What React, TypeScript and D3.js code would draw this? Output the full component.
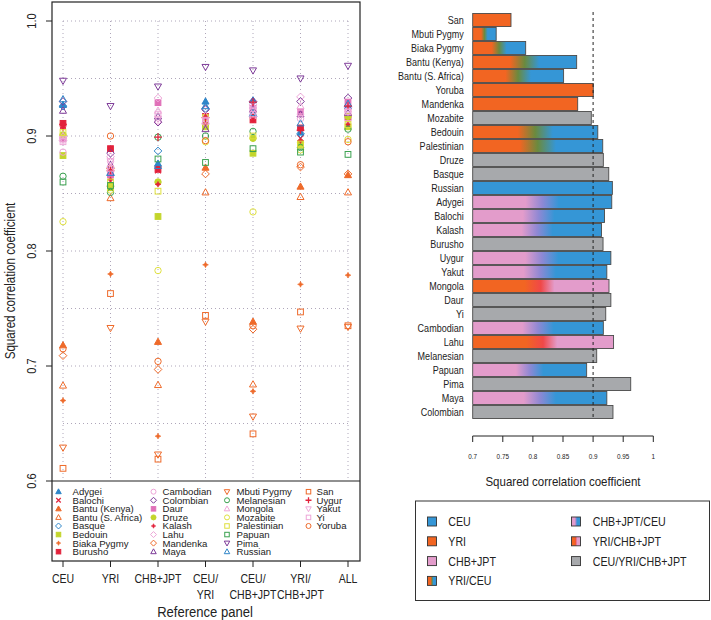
import React from "react";
import * as d3 from "d3";

// ---------- DATA ----------
const panels = ["CEU", "YRI", "CHB+JPT", "CEU/YRI", "CEU/CHB+JPT", "YRI/CHB+JPT", "ALL"];
const panelLabels = [["CEU"], ["YRI"], ["CHB+JPT"], ["CEU/", "YRI"], ["CEU/", "CHB+JPT"], ["YRI/", "CHB+JPT"], ["ALL"]];

const populations = [
  "Adygei", "Balochi", "Bantu (Kenya)", "Bantu (S. Africa)", "Basque", "Bedouin", "Biaka Pygmy", "Burusho",
  "Cambodian", "Colombian", "Daur", "Druze", "Kalash", "Lahu", "Mandenka", "Maya",
  "Mbuti Pygmy", "Melanesian", "Mongola", "Mozabite", "Palestinian", "Papuan", "Pima", "Russian",
  "San", "Uygur", "Yakut", "Yi", "Yoruba",
];

const valsCEU = [0.927, 0.909, 0.718, 0.683, 0.926, 0.883, 0.670, 0.911, 0.886, 0.930, 0.898, 0.901, 0.907, 0.896, 0.709, 0.922, 0.629, 0.865, 0.900, 0.8255, 0.903, 0.860, 0.948, 0.932, 0.611, 0.910, 0.897, 0.895, 0.715];
const valsYRI = [0.868, 0.870, 0.858, 0.846, 0.866, 0.855, 0.780, 0.889, 0.878, 0.885, 0.866, 0.857, 0.862, 0.882, 0.872, 0.875, 0.733, 0.851, 0.871, 0.853, 0.860, 0.857, 0.926, 0.868, 0.763, 0.870, 0.878, 0.872, 0.900];
const valsCHBJPT = [0.876, 0.870, 0.721, 0.6835, 0.887, 0.830, 0.639, 0.871, 0.913, 0.912, 0.929, 0.860, 0.858, 0.933, 0.697, 0.917, 0.623, 0.899, 0.922, 0.783, 0.852, 0.880, 0.943, 0.874, 0.619, 0.899, 0.915, 0.919, 0.704];
const valsCEUYRI = [0.930, 0.915, 0.8725, 0.851, 0.924, 0.908, 0.788, 0.917, 0.912, 0.923, 0.913, 0.910, 0.911, 0.911, 0.867, 0.906, 0.7385, 0.900, 0.918, 0.895, 0.916, 0.877, 0.960, 0.926, 0.744, 0.916, 0.914, 0.913, 0.896];
const valsCEUCHB = [0.931, 0.919, 0.7385, 0.684, 0.917, 0.885, 0.678, 0.914, 0.917, 0.930, 0.924, 0.898, 0.914, 0.927, 0.732, 0.923, 0.656, 0.904, 0.926, 0.834, 0.900, 0.889, 0.957, 0.920, 0.641, 0.9295, 0.9228, 0.919, 0.735];
const valsYRICHB = [0.903, 0.898, 0.856, 0.847, 0.902, 0.892, 0.771, 0.907, 0.915, 0.930, 0.921, 0.894, 0.896, 0.934, 0.873, 0.919, 0.7325, 0.890, 0.926, 0.888, 0.893, 0.886, 0.950, 0.911, 0.747, 0.905, 0.917, 0.920, 0.875];
const valsALL = [0.926, 0.925, 0.866, 0.851, 0.926, 0.908, 0.779, 0.9165, 0.914, 0.933, 0.9295, 0.917, 0.910, 0.925, 0.867, 0.920, 0.734, 0.906, 0.923, 0.897, 0.910, 0.884, 0.961, 0.928, 0.735, 0.926, 0.921, 0.921, 0.895];
const panelValues = [valsCEU, valsYRI, valsCHBJPT, valsCEUYRI, valsCEUCHB, valsYRICHB, valsALL];

const yTicks = [0.6, 0.7, 0.8, 0.9, 1.0];
const yGrid = [0.65, 0.7, 0.75, 0.8, 0.85, 0.9, 0.95, 1.0];

const barPopulations = [
  "San", "Mbuti Pygmy", "Biaka Pygmy", "Bantu (Kenya)", "Bantu (S. Africa)", "Yoruba", "Mandenka", "Mozabite",
  "Bedouin", "Palestinian", "Druze", "Basque", "Russian", "Adygei", "Balochi", "Kalash", "Burusho", "Uygur",
  "Yakut", "Mongola", "Daur", "Yi", "Cambodian", "Lahu", "Melanesian", "Papuan", "Pima", "Maya", "Colombian",
];
const barValues = [
  0.7636, 0.739, 0.788, 0.8727, 0.851, 0.9003, 0.8744, 0.897,
  0.9078, 0.916, 0.917, 0.926, 0.932, 0.931, 0.919, 0.914, 0.9165, 0.9295,
  0.9228, 0.9264, 0.9295, 0.921, 0.917, 0.934, 0.906, 0.8893, 0.9625, 0.9228, 0.933,
];
const barSources = [
  "YRI", "YRI/CEU", "YRI/CEU", "YRI/CEU", "YRI/CEU", "YRI", "YRI", "CEU/YRI/CHB+JPT",
  "YRI/CEU", "YRI/CEU", "CEU/YRI/CHB+JPT", "CEU/YRI/CHB+JPT", "CEU", "CHB+JPT/CEU", "CHB+JPT/CEU", "CHB+JPT/CEU", "CEU/YRI/CHB+JPT", "CHB+JPT/CEU",
  "CHB+JPT/CEU", "YRI/CHB+JPT", "CEU/YRI/CHB+JPT", "CEU/YRI/CHB+JPT", "CHB+JPT/CEU", "YRI/CHB+JPT", "CEU/YRI/CHB+JPT", "CHB+JPT/CEU", "CEU/YRI/CHB+JPT", "CHB+JPT/CEU", "CEU/YRI/CHB+JPT",
];
const barTicks = [0.7, 0.75, 0.8, 0.85, 0.9, 0.95, 1];
const barTickLabels = ["0.7", "0.75", "0.8", "0.85", "0.9", "0.95", "1"];
const legendCol1 = ["CEU", "YRI", "CHB+JPT", "YRI/CEU"];
const legendCol2 = ["CHB+JPT/CEU", "YRI/CHB+JPT", "CEU/YRI/CHB+JPT"];

// ---------- STYLES ----------
const BLUE = "#2f86c9";
const RED = "#e2223b";
const ORANGE = "#ee6a2a";
const PURPLE = "#7d3a98";
const PINK = "#e070b8";
const LPINK = "#eea6d8";
const GREEN = "#3aa14f";
const YGREEN = "#c3d52b";
const YELLOW = "#dfe03e";

const markerStyle: Record<string, [string, string]> = {
  "Adygei": ["triUpF", BLUE], "Balochi": ["x", RED], "Bantu (Kenya)": ["triUpF", ORANGE],
  "Bantu (S. Africa)": ["triUp", ORANGE], "Basque": ["diam", BLUE], "Bedouin": ["sqF", YGREEN],
  "Biaka Pygmy": ["star", ORANGE], "Burusho": ["sqF", RED], "Cambodian": ["circ", LPINK],
  "Colombian": ["diam", PURPLE], "Daur": ["sqF", PINK], "Druze": ["circF", YGREEN],
  "Kalash": ["star", RED], "Lahu": ["diam", LPINK], "Mandenka": ["diam", ORANGE],
  "Maya": ["triUp", PURPLE], "Mbuti Pygmy": ["triDown", ORANGE], "Melanesian": ["circ", GREEN],
  "Mongola": ["triUp", LPINK], "Mozabite": ["circ", YELLOW], "Palestinian": ["sq", YELLOW],
  "Papuan": ["sq", GREEN], "Pima": ["triDown", PURPLE], "Russian": ["triUp", BLUE],
  "San": ["sq", ORANGE], "Uygur": ["plus", RED], "Yakut": ["triDown", LPINK],
  "Yi": ["sq", LPINK], "Yoruba": ["circ", ORANGE],
};

const C_CEU = "#3596d6";
const C_YRI = "#f26522";
const C_CHB = "#e39ccb";
const C_GRAY = "#a7a9ac";
const gradStops: Record<string, [number, string][]> = {
  "CEU": [[0, C_CEU], [1, C_CEU]],
  "YRI": [[0, C_YRI], [1, C_YRI]],
  "CHB+JPT": [[0, C_CHB], [1, C_CHB]],
  "CEU/YRI/CHB+JPT": [[0, C_GRAY], [1, C_GRAY]],
  "YRI/CEU": [[0, C_YRI], [0.36, C_YRI], [0.5, "#6a8a3e"], [0.64, C_CEU], [1, C_CEU]],
  "CHB+JPT/CEU": [[0, C_CHB], [0.38, C_CHB], [0.5, "#8f88d4"], [0.62, C_CEU], [1, C_CEU]],
  "YRI/CHB+JPT": [[0, C_YRI], [0.38, C_YRI], [0.5, "#f04848"], [0.6, C_CHB], [1, C_CHB]],
};
const gid = (s: string) => "g_" + s.replace(/[^A-Za-z]/g, "_");

const FONT = "'Liberation Sans', Arial, sans-serif";

// condensed text helper (emulates a narrow typeface)
function NText({ x, y, size, sx, anchor, rotate, children }: { x: number; y: number; size: number; sx: number; anchor?: string; rotate?: number; children: React.ReactNode }) {
  const t = `translate(${x},${y})${rotate ? ` rotate(${rotate})` : ""} scale(${sx},1)`;
  return (
    <text transform={t} textAnchor={anchor || "start"} fontSize={size} fill="#222">
      {children}
    </text>
  );
}

function Marker({ shape, x, y, r, color }: { shape: string; x: number; y: number; r: number; color: string }) {
  const sw = 1;
  switch (shape) {
    case "triUp":
    case "triUpF": {
      const pts = `${x},${y - r * 1.15} ${x - r * 1.1},${y + r * 0.8} ${x + r * 1.1},${y + r * 0.8}`;
      const f = shape === "triUpF";
      return <polygon points={pts} fill={f ? color : "none"} stroke={color} strokeWidth={sw} />;
    }
    case "triDown": {
      const pts = `${x},${y + r * 1.15} ${x - r * 1.1},${y - r * 0.8} ${x + r * 1.1},${y - r * 0.8}`;
      return <polygon points={pts} fill="none" stroke={color} strokeWidth={sw} />;
    }
    case "sq":
    case "sqF": {
      const s = r * 0.9;
      return <rect x={x - s} y={y - s} width={2 * s} height={2 * s} fill={shape === "sqF" ? color : "none"} stroke={color} strokeWidth={sw} />;
    }
    case "circ":
    case "circF":
      return <circle cx={x} cy={y} r={r} fill={shape === "circF" ? color : "none"} stroke={color} strokeWidth={sw} />;
    case "diam": {
      const s = r * 1.2;
      const pts = `${x},${y - s} ${x + s},${y} ${x},${y + s} ${x - s},${y}`;
      return <polygon points={pts} fill="none" stroke={color} strokeWidth={sw} />;
    }
    case "x": {
      const s = r * 0.9;
      return <path d={`M${x - s},${y - s}L${x + s},${y + s}M${x - s},${y + s}L${x + s},${y - s}`} stroke={color} strokeWidth={1.2} />;
    }
    case "plus": {
      const s = r * 1.2;
      return <path d={`M${x - s},${y}L${x + s},${y}M${x},${y - s}L${x},${y + s}`} stroke={color} strokeWidth={1.3} />;
    }
    case "star": {
      const a = r * 0.9, b = r * 0.3;
      const d = `M${x},${y - a}L${x + b},${y - b}L${x + a},${y}L${x + b},${y + b}L${x},${y + a}L${x - b},${y + b}L${x - a},${y}L${x - b},${y - b}Z`;
      return <path d={d} fill={color} stroke={color} strokeWidth={0.6} />;
    }
  }
  return null;
}

export default function App() {
  // Left panel
  const boxL = 52, boxR = 360, boxT = 2, plotB = 481, boxB = 561;
  const x = d3.scalePoint<string>().domain(panels).range([63, 348]);
  const y = d3.scaleLinear().domain([0.6, 1.0]).range([481, 21]);
  const xMin = x(panels[0])!, xMax = x(panels[panels.length - 1])!;

  // Right panel
  const bx = d3.scaleLinear().domain([0.7, 1]).range([472.7, 653.3]);
  const by = d3.scaleBand<string>().domain(barPopulations).range([13, 419]).paddingInner(0.07).paddingOuter(0.035);
  const axisY = 436;

  const legendRows = 8;
  const legColsSym = [58.5, 153.5, 227, 308.5];
  const legColsText = [72.5, 162.5, 236.5, 316.5];

  return (
    <svg width={711} height={620} style={{ position: "absolute", left: 0, top: 0, background: "#fff" }} fontFamily={FONT}>
      <defs>
        {Object.keys(gradStops).map((k) => (
          <linearGradient key={k} id={gid(k)} x1="0" x2="1" y1="0" y2="0">
            {gradStops[k].map(([o, c], i) => (
              <stop key={i} offset={o} stopColor={c} />
            ))}
          </linearGradient>
        ))}
      </defs>

      {/* ---------- LEFT PANEL ---------- */}
      {yGrid.map((v) => (
        <line key={"hg" + v} x1={xMin} x2={xMax} y1={y(v)} y2={y(v)} stroke="#9a8fa8" strokeWidth={0.8} strokeDasharray="1,3" />
      ))}
      {panels.map((p) => (
        <line key={"vg" + p} x1={x(p)} x2={x(p)} y1={y(1.0)} y2={plotB} stroke="#9a8fa8" strokeWidth={0.8} strokeDasharray="1,3" />
      ))}
      {panels.map((p, pi) =>
        populations.map((pop, i) => {
          const [shape, color] = markerStyle[pop];
          return <Marker key={p + pop} shape={shape} x={x(p)!} y={y(panelValues[pi][i])} r={3.2} color={color} />;
        })
      )}
      <rect x={boxL} y={boxT} width={boxR - boxL} height={boxB - boxT} fill="none" stroke="#222" strokeWidth={1.2} />
      <line x1={boxL} x2={boxR} y1={plotB} y2={plotB} stroke="#222" strokeWidth={1.2} />

      {yTicks.map((v) => (
        <g key={"yt" + v}>
          <line x1={boxL} x2={boxL - 6} y1={y(v)} y2={y(v)} stroke="#222" strokeWidth={1} />
          <NText x={36} y={y(v)} size={13} sx={0.85} anchor="middle" rotate={-90}>
            {v.toFixed(1)}
          </NText>
        </g>
      ))}
      <NText x={15} y={281} size={14} sx={0.83} anchor="middle" rotate={-90}>
        Squared correlation coefficient
      </NText>

      {panels.map((p, i) => (
        <g key={"xt" + p}>
          <line x1={x(p)} x2={x(p)} y1={boxB} y2={boxB + 6} stroke="#222" strokeWidth={1} />
          {panelLabels[i].map((t, j) => (
            <NText key={j} x={x(p)!} y={583 + j * 16} size={13.5} sx={0.78} anchor="middle">
              {t}
            </NText>
          ))}
        </g>
      ))}
      <NText x={205} y={617} size={14.5} sx={0.9} anchor="middle">
        Reference panel
      </NText>

      {populations.map((pop, i) => {
        const col = Math.floor(i / legendRows);
        const row = i % legendRows;
        const yy = 491.7 + row * 8.57;
        const [shape, color] = markerStyle[pop];
        return (
          <g key={"lg" + pop}>
            <Marker shape={shape} x={legColsSym[col]} y={yy} r={2.5} color={color} />
            <NText x={legColsText[col]} y={yy + 3.5} size={9.8} sx={0.98}>
              {pop}
            </NText>
          </g>
        );
      })}

      {/* ---------- RIGHT PANEL ---------- */}
      {barPopulations.map((pop, i) => (
        <g key={"bar" + pop}>
          <rect
            x={bx(0.7)}
            y={by(pop)}
            width={bx(barValues[i]) - bx(0.7)}
            height={by.bandwidth()}
            fill={`url(#${gid(barSources[i])})`}
            stroke="#4a4a4a"
            strokeWidth={0.9}
          />
          <NText x={463.7} y={by(pop)! + by.bandwidth() / 2 + 4} size={11} sx={0.82} anchor="end">
            {pop}
          </NText>
        </g>
      ))}
      <line x1={bx(0.9)} x2={bx(0.9)} y1={12} y2={419} stroke="#222" strokeWidth={1} strokeDasharray="3,3" />

      <line x1={bx(0.7)} x2={bx(1)} y1={axisY} y2={axisY} stroke="#222" strokeWidth={1} />
      {barTicks.map((v, i) => (
        <g key={"bt" + v}>
          <line x1={bx(v)} x2={bx(v)} y1={axisY} y2={axisY + 6} stroke="#222" strokeWidth={1} />
          <NText x={bx(v)} y={459} size={7.5} sx={0.85} anchor="middle">
            {barTickLabels[i]}
          </NText>
        </g>
      ))}
      <NText x={bx(0.85)} y={486} size={13} sx={0.885} anchor="middle">
        Squared correlation coefficient
      </NText>

      <rect x={415.5} y={501} width={294} height={99.5} fill="none" stroke="#333" strokeWidth={1} />
      {[legendCol1, legendCol2].map((col, ci) =>
        col.map((k, ri) => {
          const yy = 521.5 + ri * 19.8;
          const sx = ci === 0 ? 427.5 : 571.5;
          const tx = ci === 0 ? 448.3 : 592.7;
          return (
            <g key={"rl" + k}>
              <rect x={sx} y={yy - 4.5} width={9} height={9} fill={`url(#${gid(k)})`} stroke="#333" strokeWidth={0.9} />
              <NText x={tx} y={yy + 4.5} size={13} sx={0.82}>
                {k}
              </NText>
            </g>
          );
        })
      )}
    </svg>
  );
}
